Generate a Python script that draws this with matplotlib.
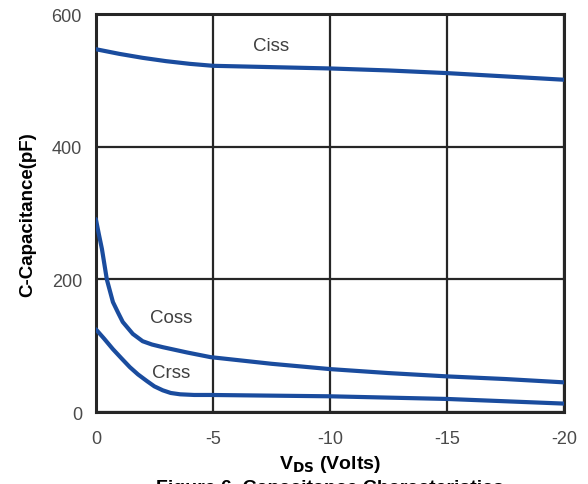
import numpy as np
import matplotlib.pyplot as plt

plt.rcParams['font.family'] = ['Liberation Sans', 'DejaVu Sans']

# capacitance curves
ciss_v = [0, -1, -2, -3, -4, -5, -7.5, -10, -12.5, -15, -17.5, -20]
ciss_c = [547, 540, 534, 529, 525, 522, 520, 518, 515, 511, 506, 501]

coss_v = [0, -0.13, -0.26, -0.47, -0.73, -0.95, -1.15, -1.58, -2.0, -2.4, -2.86, -3.9, -4.9,
          -7.5, -10, -12.5, -15, -17.5, -20]
coss_c = [291, 268, 246, 200, 166, 150, 136, 118, 107, 102, 98, 90, 83,
          73, 65, 59, 54, 50, 45]

crss_v = [0, -0.35, -0.73, -1.1, -1.45, -1.8, -2.18, -2.5, -2.86, -3.2, -3.6, -4.2, -4.9,
          -10, -15, -20]
crss_c = [125, 111, 95, 81, 68, 57, 47, 39, 33, 29, 27, 26, 26,
          24, 20, 13]

xticks = [0, -5, -10, -15, -20]
yticks = [0, 200, 400, 600]

fig = plt.figure(figsize=(5.88, 4.85), dpi=100)
ax = fig.add_axes([0.163, 0.148, 0.796, 0.821])

blue = '#1a4c9e'
for v, c in [(ciss_v, ciss_c), (coss_v, coss_c), (crss_v, crss_c)]:
    ax.plot(v, c, color=blue, lw=3.0, solid_capstyle='round', solid_joinstyle='round', zorder=3)

ax.set_xlim(0, -20)
ax.set_ylim(0, 600)
ax.set_xticks(xticks)
ax.set_xticklabels([str(t) for t in xticks])
ax.set_yticks(yticks)
ax.grid(True, color='#262626', lw=1.6)
ax.tick_params(length=0, labelsize=13, labelcolor='#4a4a4a')
ax.tick_params(axis='x', pad=13)
ax.tick_params(axis='y', pad=10)
for s in ax.spines.values():
    s.set_linewidth(2.2)
    s.set_color('#262626')

ax.text(-7.5, 552, 'Ciss', fontsize=13.5, color='#404040', ha='center', va='center')
ax.text(-3.2, 142, 'Coss', fontsize=13.5, color='#404040', ha='center', va='center')
ax.text(-3.2, 60, 'Crss', fontsize=13.5, color='#404040', ha='center', va='center')

ax.set_ylabel('C-Capacitance(pF)', fontsize=13.5, fontweight='bold', labelpad=11)
fig.text(330 / 588, 1 - 465 / 485, r'V$_{\mathbf{DS}}$ (Volts)', fontsize=14, fontweight='bold',
         ha='center', va='center')
fig.text(330 / 588, 1 - 489 / 485, 'Figure 6. Capacitance Characteristics', fontsize=14,
         fontweight='bold', ha='center', va='center')

plt.savefig('out.png', dpi=100)
